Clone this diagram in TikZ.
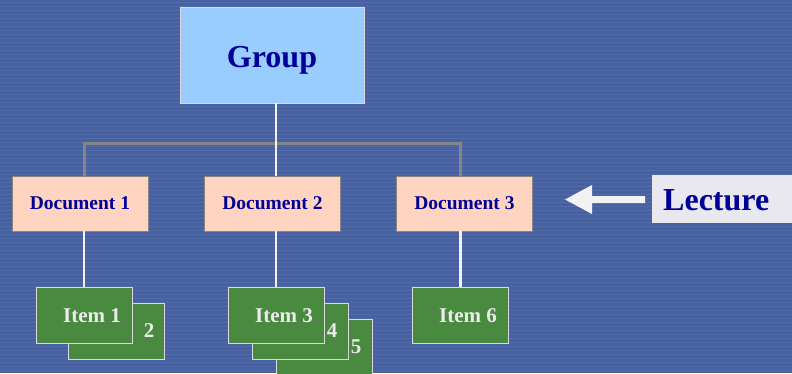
\documentclass[tikz,border=0pt]{standalone}
\usepackage{fontspec}
\setmainfont{Liberation Serif}
\definecolor{bg}{HTML}{4561A2}
\definecolor{grpfill}{HTML}{99CCFF}
\definecolor{docfill}{HTML}{FFD5C2}
\definecolor{itemfill}{HTML}{4A8A40}
\definecolor{dtext}{HTML}{000099}
\definecolor{lecfill}{HTML}{E8E8EE}
\definecolor{conn}{HTML}{858585}
\definecolor{wline}{HTML}{F2F2F2}
\begin{document}
\begin{tikzpicture}[x=1pt,y=-1pt,
  grpbox/.style={draw=white!85!black, line width=0.8pt, fill=grpfill, minimum width=184pt, minimum height=96pt, inner sep=0pt},
  bigtext/.style={font=\bfseries\fontsize{32}{32}\selectfont, text=dtext, inner sep=0pt},
  docbox/.style={draw=conn, line width=0.8pt, fill=docfill, minimum width=136pt, minimum height=55pt, font=\bfseries\fontsize{19.5}{19.5}\selectfont, text=dtext, inner sep=0pt},
  itembox/.style={draw=white!85!black, line width=0.8pt, fill=itemfill, minimum width=96pt, minimum height=56pt, inner sep=0pt},
  itemtext/.style={font=\bfseries\fontsize{21}{21}\selectfont, text=white!92!black, inner sep=0pt},
  wconn/.style={draw=wline, line width=2.6pt},
  gconn/.style={draw=conn, line width=3pt},
  lecbox/.style={fill=lecfill, minimum width=145pt, minimum height=48pt, inner sep=0pt}
]
\fill[bg] (0,0) rectangle (792,373);
\useasboundingbox (0,0) rectangle (792,373);
\foreach \yy in {2,6,...,372} {\draw[white!30!bg, opacity=0.25, line width=0.6pt] (0,\yy) -- (792,\yy);}

% connectors
\coordinate (hl) at (84,143);
\coordinate (hr) at (460,143);
\node[grpbox] (grp) at (272,55) {};
\node[bigtext, anchor=base] (grpt) at (272,67) {Group};
\node[docbox] (d1) at (80,203.5) {Document 1};
\node[docbox] (d2) at (272.5,203.5) {Document 2};
\node[docbox] (d3) at (464.5,203.5) {Document 3};

\draw[gconn, line join=miter] (d1.north -| hl) -- (hl) -- (hr) -- (d3.north -| hr);
\draw[wconn] (grp.south -| 276,0) -- (d2.north -| 276,0);

% items
\node[itembox] (i5) at (324,347) {};
\node[itembox] (i4) at (300,331) {};
\node[itembox] (i2) at (116,331) {};
\node[itembox] (i1) at (84,315) {};
\node[itembox] (i3) at (276,315) {};
\node[itembox] (i6) at (460.5,315) {};
\node[itemtext] (t1) at (92,316) {Item 1};
\node[itemtext] (t2) at (149,331) {2};
\node[itemtext] (t3) at (284,316) {Item 3};
\node[itemtext] (t4) at (332,331) {4};
\node[itemtext] (t5) at (356,347) {5};
\node[itemtext] (t6) at (468,316) {Item 6};

\draw[wconn] (d1.south -| i1.north) -- (i1.north);
\draw[wconn] (d2.south -| i3.north) -- (i3.north);
\draw[wconn] (d3.south -| i6.north) -- (i6.north);

% lecture
\node[lecbox, anchor=west] (lec) at (652,199) {};
\node[bigtext, anchor=base west] (lect) at (663,210) {Lecture};
\coordinate (atip) at (565,199.5);
\fill[wline] (lec.west |- 0,196) ++(-7,0) -- (592,196) -- (592,185) -- (atip) -- (592,214) -- (592,203) -- (645,203) -- cycle;
\end{tikzpicture}
\end{document}
